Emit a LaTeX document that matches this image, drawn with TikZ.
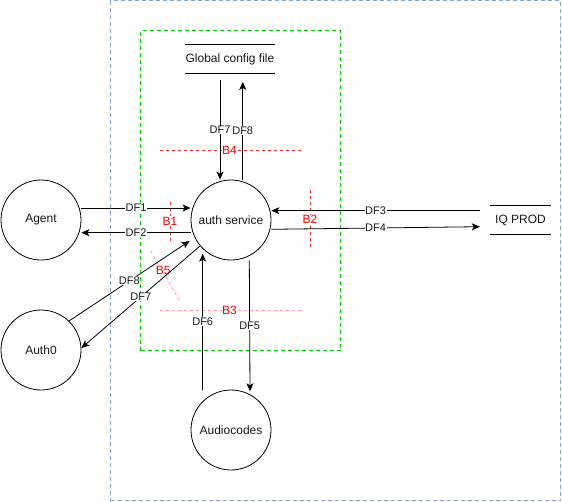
\documentclass[tikz,border=0pt]{standalone}
\usepackage{fontspec}
\setmainfont{Liberation Sans}
\usetikzlibrary{arrows.meta,calc}
\definecolor{bluebox}{HTML}{7EA6E0}
\definecolor{greenbox}{HTML}{00CC00}
\definecolor{bred}{HTML}{FF0000}
\definecolor{txt}{HTML}{1A1A1A}
\tikzset{
  proc/.style={circle,draw=black,line width=0.8pt,minimum size=80pt,inner sep=0pt,text=txt,font=\fontsize{12}{14}\selectfont},
  store/.style={minimum width=60pt,minimum height=28pt,inner sep=0pt,text=txt,font=\fontsize{12}{14}\selectfont},
  storeline/.style={draw=black,line width=0.8pt},
  flow/.style={draw=black,line width=0.8pt,-{Stealth[length=8pt,width=7pt,inset=2pt]}},
  lbl/.style={fill=white,inner sep=0.6pt,text=txt,font=\fontsize{11}{13}\selectfont},
  blbl/.style={fill=white,inner sep=0.6pt,text=bred,font=\fontsize{12}{14}\selectfont},
  bline/.style={draw=bred!85,line width=0.6pt,dash pattern=on 3pt off 3pt},
  blight/.style={draw=bred!40,line width=0.8pt,dash pattern=on 3pt off 3pt},
  zone/.style={line width=0.8pt,dash pattern=on 4pt off 3pt,inner sep=0pt},
}
\begin{document}
\begin{tikzpicture}[x=1pt,y=-1pt]
\fill[white] (0,0) rectangle (562,501);
\useasboundingbox (0,0) rectangle (562,501);

% trust zones
\node[zone,draw=bluebox,minimum width=450pt,minimum height=500pt] (outer) at (335.5,250.5) {};
\node[zone,draw=greenbox,minimum width=200pt,minimum height=320pt] (inner) at (240.5,190.5) {};

% boundaries
\draw[bline] (170,201.7) -- node[blbl] (b1) {B1} (170,240.7);
\draw[bline] (310,190) -- node[blbl] (b2) {B2} (310,249);
\draw[bline] (160,150) -- (302,150);
\node[blbl] (b4) at (229.5,150) {B4};
\draw[blight] (160,310) -- (302,310);
\node[blbl] (b3) at (229.5,310) {B3};
\draw[blight] (150.7,251) -- (179.3,300);
\node[blbl] (b5) at (163.3,270.7) {B5};

% processes
\node[proc] (agent) at (41,220) {Agent};
\node[proc] (auth) at (231,220) {auth service};
\node[proc] (auth0) at (41,350) {Auth0};
\node[proc] (audio) at (231,430) {Audiocodes};

% data stores
\node[store] (cfg) at (230,59) {Global config file};
\draw[storeline] (cfg.north west) -- (cfg.north east) (cfg.south west) -- (cfg.south east);
\node[store] (iq) at (520.5,220) {IQ PROD};
\draw[storeline] (iq.north west) -- (iq.north east) (iq.south west) -- (iq.south east);

% flows
\draw[flow] ($(agent.east)+(0,-12)$) -- node[lbl] (df1) {DF1} ($(auth.west)+(0,-12)$);
\draw[flow] ($(auth.west)+(0,12.7)$) -- node[lbl] (df2) {DF2} ($(agent.east)+(0,12.7)$);
\draw[flow] ($(iq.west)+(-10.5,-9.3)$) -- node[lbl] (df3) {DF3} ($(auth.east)+(0,-9.3)$);
\draw[flow] ($(auth.east)+(0,9.3)$) -- node[lbl] (df4) {DF4} ($(iq.west)+(-10.5,6.7)$);
\draw[flow] ($(cfg.south)+(-10,7)$) -- node[lbl] (df7a) {DF7} ($(auth.north)+(-11,0)$);
\draw[flow] ($(auth.north)+(11.7,0)$) -- node[lbl] (df8a) {DF8} ($(cfg.south)+(12.7,8.7)$);
\draw[flow] (auth0.46) -- node[lbl] (df8b) {DF8} ($(auth.west)+(-1,21)$);
\draw[flow] (auth.220) -- node[lbl] (df7b) {DF7} ($(auth0.east)+(0,-2)$);
\draw[flow] ($(audio.north)+(-28.3,0)$) -- node[lbl] (df6) {DF6} ($(auth.south)+(-28.3,-6.7)$);
\draw[flow] ($(auth.south)+(18.3,0)$) -- node[lbl] (df5) {DF5} ($(audio.north)+(19,1.7)$);
\end{tikzpicture}
\end{document}
